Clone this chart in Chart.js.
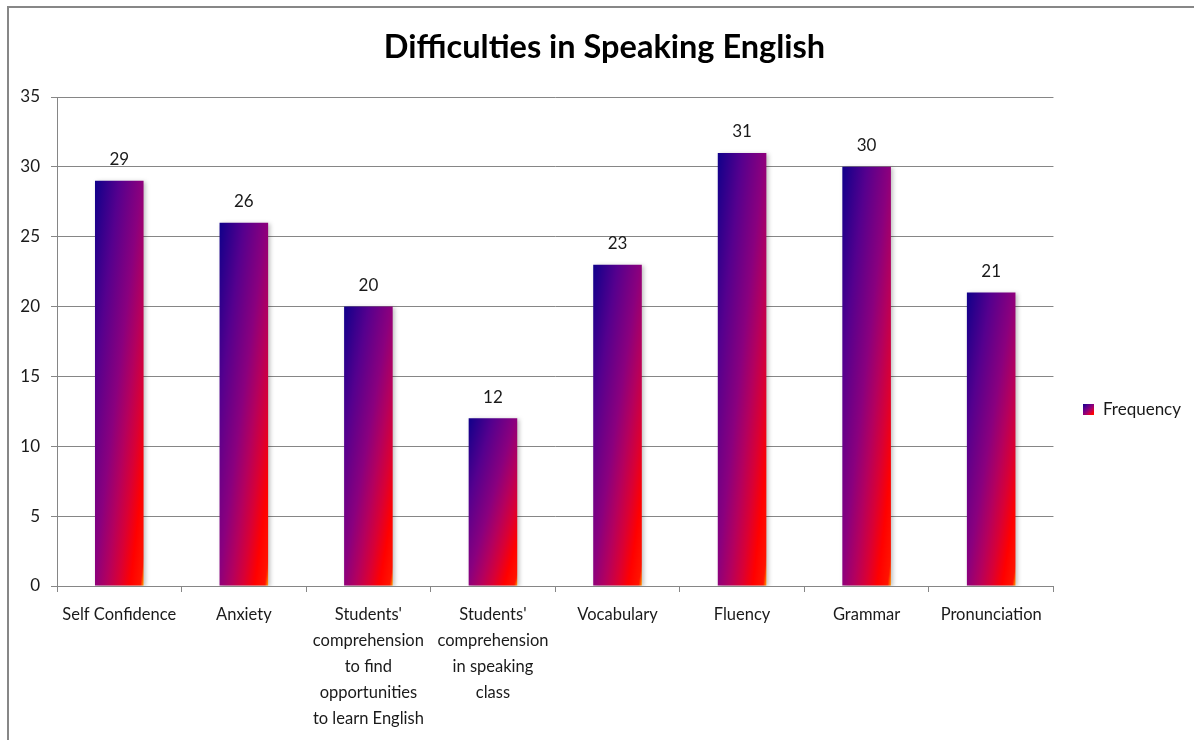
<!DOCTYPE html>
<html>
<head>
<meta charset="utf-8">
<script src="https://cdn.jsdelivr.net/npm/chart.js@4.4.1/dist/chart.umd.min.js"></script>
<style>
  html, body { margin: 0; padding: 0; background: #fff; }
  #wrap { position: relative; width: 1194px; height: 740px; overflow: hidden; }
  #frame { position: absolute; left: 7px; top: 6px; width: 1300px; height: 900px;
           border-top: 2px solid #878787; border-left: 2px solid #878787; pointer-events: none; }
  canvas { position: absolute; left: 0; top: 0; }
</style>
</head>
<body>
<div id="wrap">
  <canvas id="c" width="1194" height="740"></canvas>
  <div id="frame"></div>
</div>
<script>
const chartTitle = "Difficulties in Speaking English";
const seriesName = "Frequency";
const categories = [
  "Self Confidence",
  "Anxiety",
  ["Students'", "comprehension", "to find", "opportunities", "to learn English"],
  ["Students'", "comprehension", "in speaking", "class"],
  "Vocabulary",
  "Fluency",
  "Grammar",
  "Pronunciation"
];
const frequency = [29, 26, 20, 12, 23, 31, 30, 21];
const yTicks = [0, 5, 10, 15, 20, 25, 30, 35];

const FONT = "Lato, 'Open Sans', sans-serif";
const BAR_FRACTION = 0.39;
const GRID = "#868686";
const FALLBACK = "#870080";

const gradStops = [
  [0.00, "#10008a"],
  [0.25, "#55008e"],
  [0.48, "#8a007e"],
  [0.62, "#b4005e"],
  [0.74, "#d80036"],
  [0.86, "#ff0000"],
  [0.965, "#ff1400"],
  [1.00, "#ffa000"]
];

function paintGradient(g, w, h, offX, offY) {
  g.save();
  g.translate(offX, offY);
  g.scale(w, h);
  const lg = g.createLinearGradient(0, 0, 1, 1);
  gradStops.forEach(s => lg.addColorStop(s[0], s[1]));
  g.fillStyle = lg;
  g.fillRect(-1, -1, 3, 3);
  g.restore();
}

function barFill(ctx) {
  if (ctx.type !== 'data') return FALLBACK;
  const chart = ctx.chart;
  const xs = chart.scales && chart.scales.x, ys = chart.scales && chart.scales.y;
  if (!xs || !ys || !(xs.width > 0)) return FALLBACK;
  const n = chart.data.labels.length;
  const w = (xs.width / n) * BAR_FRACTION;
  const cx = xs.getPixelForValue(ctx.dataIndex);
  const top = ys.getPixelForValue(ctx.raw);
  const bottom = ys.getPixelForValue(0);
  const h = bottom - top;
  if (!isFinite(w) || !isFinite(h) || !isFinite(cx) || w < 1 || h < 1) return FALLBACK;
  const left = cx - w / 2;
  const pad = 3;
  const off = document.createElement('canvas');
  off.width = Math.ceil(w) + pad * 2;
  off.height = Math.ceil(h) + pad * 2;
  paintGradient(off.getContext('2d'), w, h, pad, pad);
  const pat = chart.ctx.createPattern(off, 'no-repeat');
  pat.setTransform(new DOMMatrix([1, 0, 0, 1, left - pad, top - pad]));
  return pat;
}

const swatch = document.createElement('canvas');
swatch.width = 11; swatch.height = 11;
paintGradient(swatch.getContext('2d'), 11, 11, 0, 0);

const shadowPlugin = {
  id: 'barShadow',
  beforeDatasetsDraw(chart) {
    const c = chart.ctx;
    c.save();
    c.shadowColor = 'rgba(0,0,0,0.25)';
    c.shadowBlur = 4;
    c.shadowOffsetX = 2;
    c.shadowOffsetY = 1;
  },
  afterDatasetsDraw(chart) {
    chart.ctx.restore();
  }
};

const valueLabels = {
  id: 'valueLabels',
  afterDatasetsDraw(chart) {
    const c = chart.ctx;
    const meta = chart.getDatasetMeta(0);
    c.save();
    c.font = "17px " + FONT;
    c.fillStyle = "#1a1a1a";
    c.textAlign = 'center';
    c.textBaseline = 'middle';
    meta.data.forEach((el, i) => {
      c.fillText(String(chart.data.datasets[0].data[i]), el.x, el.y - 21);
    });
    c.restore();
  }
};

new Chart(document.getElementById('c'), {
  type: 'bar',
  data: {
    labels: categories,
    datasets: [{
      label: seriesName,
      data: frequency,
      backgroundColor: barFill,
      borderWidth: 0,
      categoryPercentage: 1,
      barPercentage: BAR_FRACTION
    }]
  },
  options: {
    responsive: false,
    animation: false,
    events: [],
    layout: { padding: { top: 10, left: 18, right: 3, bottom: 0 } },
    plugins: {
      title: {
        display: true,
        text: chartTitle,
        color: "#000",
        font: { family: FONT, size: 32.5, weight: 'bold' },
        padding: { top: 18.5, bottom: 29.5 }
      },
      legend: {
        position: 'right',
        title: { display: true, text: '', padding: { top: 54, bottom: 0 } },
        labels: {
          usePointStyle: true,
          pointStyle: swatch,
          boxWidth: 11,
          boxHeight: 11,
          padding: 30,
          color: "#1a1a1a",
          font: { family: FONT, size: 17 }
        }
      },
      tooltip: { enabled: false }
    },
    scales: {
      x: {
        offset: true,
        grid: { display: true, drawOnChartArea: false, drawTicks: true, tickLength: 6, color: GRID, offset: true },
        border: { display: true, color: GRID, width: 1 },
        ticks: {
          autoSkip: false, maxRotation: 0, minRotation: 0,
          color: "#1a1a1a", padding: 10,
          font: { family: FONT, size: 16.5, lineHeight: '26px' }
        },
        afterFit(scale) { scale.height = 154; }
      },
      y: {
        min: yTicks[0],
        max: yTicks[yTicks.length - 1],
        afterBuildTicks(scale) { scale.ticks = yTicks.map(v => ({ value: v })); },
        grid: { color: GRID, tickLength: 6, drawTicks: true },
        border: { display: true, color: GRID, width: 1 },
        ticks: { color: "#1a1a1a", padding: 11, font: { family: FONT, size: 17 } },
        afterFit(scale) { scale.width = 39; }
      }
    }
  },
  plugins: [shadowPlugin, valueLabels]
});
</script>
</body>
</html>
